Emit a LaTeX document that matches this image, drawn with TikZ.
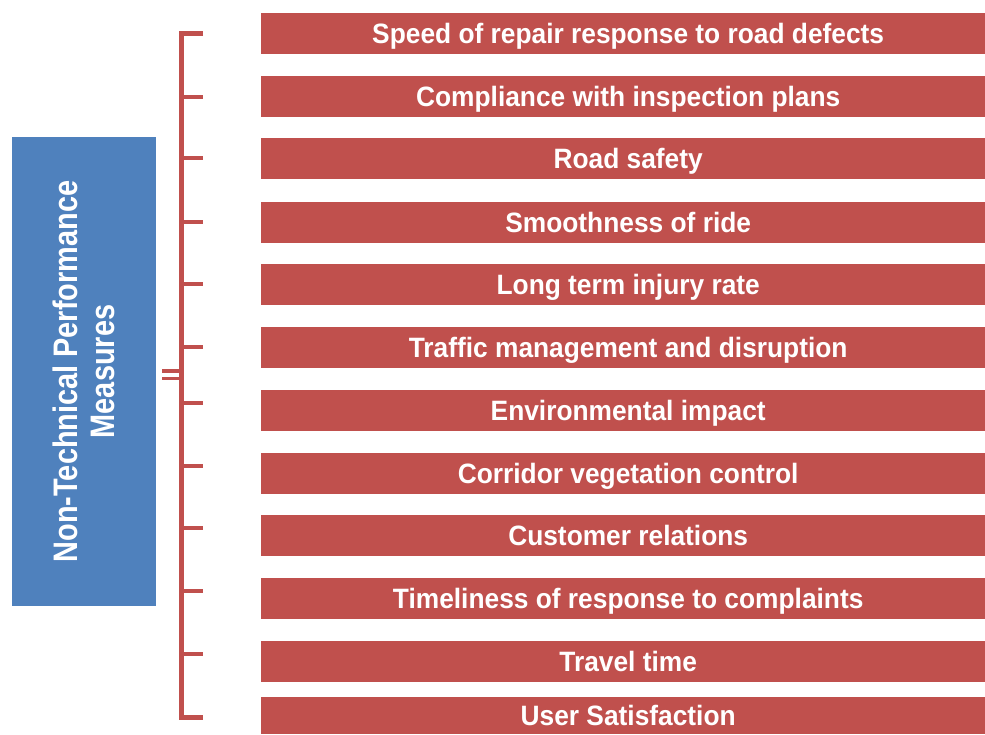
\documentclass[tikz,border=0pt]{standalone}
\usepackage{fontspec}
\setmainfont{Liberation Sans}
\newfontfamily\barfont{Liberation Sans}[FakeStretch=0.94]
\newfontfamily\boxfont{Liberation Sans}[FakeStretch=0.85]
\usepackage{xcolor}
\usepackage{tikz}
\definecolor{barred}{HTML}{C0504D}
\definecolor{boxblue}{HTML}{4F81BD}
\tikzset{measure bar/.style={fill=barred,draw=none,anchor=north west,
    minimum width=724pt,inner sep=0pt,
    text height=20pt,text depth=0pt,text=white,
    font=\barfont\bfseries\fontsize{28}{30}\selectfont},
    group box/.style={fill=boxblue,draw=none,rotate=90,align=center,
    minimum width=469pt,minimum height=144pt,inner sep=0pt,text=white,
    font=\boxfont\bfseries\fontsize{34}{37}\selectfont},
    spine/.style={draw=barred,line width=5pt,line join=miter},
    branch/.style={draw=barred,line width=4pt}}

\begin{document}
\begin{tikzpicture}[x=1pt,y=-1pt]
            \useasboundingbox (0,0) rectangle (985,734);
            \fill[white] (0,0) rectangle (985,734);
            \node[group box] (npm) at (84,371.5)
            {Non-Technical Performance\\Measures};
            \foreach \top/\hgt/\ty/\name/\txt in {
            13/41/33/speed/Speed of repair response to road defects,
            76/41/97/inspect/Compliance with inspection plans,
            138/41/158/safety/Road safety,
            202/41/222/smooth/Smoothness of ride,
            264/41/284/injury/Long term injury rate,
            327/41/347/traffic/Traffic management and disruption,
            390/41/403/environ/Environmental impact,
            453/41/466/veget/Corridor vegetation control,
            515/41/528/custom/Customer relations,
            578/41/591/complain/Timeliness of response to complaints,
            641/41/654/travel/Travel time,
            697/37/717/satisf/User Satisfaction}
            {
            \node[measure bar,minimum height=\hgt pt] (\name) at (261,\top)
            {\hspace*{10pt}\txt};
            \coordinate (sp-\name) at (181,\ty);
            \coordinate (tk-\name) at (203,\ty);
            \draw[branch] (sp-\name) -- (tk-\name);
            }
            \draw[spine] (tk-speed) -- (sp-speed) -- (sp-satisf) -- (tk-satisf);
            \coordinate (hub-a) at (162,371);
            \coordinate (hub-b) at (162,378.5);
            \draw[branch,line width=3.5pt] (hub-a) -- (hub-a -| sp-speed);
            \draw[branch,line width=3.5pt] (hub-b) -- (hub-b -| sp-speed);
        \end{tikzpicture}
\end{document}
